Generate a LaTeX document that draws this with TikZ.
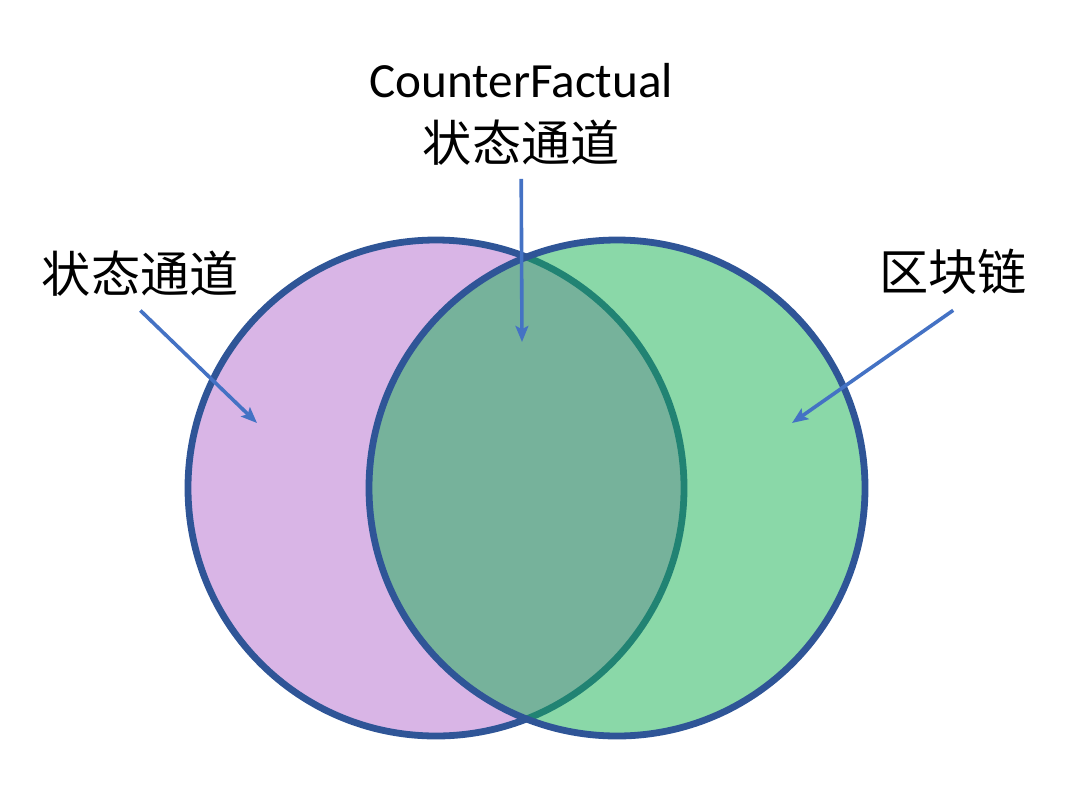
\documentclass[tikz,border=0pt]{standalone}
\usepackage{fontspec}
\setmainfont{Carlito}
\newfontfamily\cjk{Noto Sans CJK SC}
\usetikzlibrary{arrows.meta,positioning}
\definecolor{setpurple}{HTML}{D9B5E6}
\definecolor{setgreen}{HTML}{15B151}
\definecolor{ringblue}{HTML}{2F5597}
\definecolor{arrowblue}{HTML}{4472C4}

\begin{document}
\begin{tikzpicture}[
    set/.style={circle, draw=ringblue, line width=0.17cm, minimum size=12.4cm, inner sep=0pt},
    tag/.style={font=\fontsize{35}{45}\selectfont, inner sep=0pt, align=center},
    arrow/.style={-{Stealth[length=4mm, width=3.2mm, inset=0.8mm]}, draw=arrowblue, line width=0.09cm}
]
    \useasboundingbox (0,0) rectangle (27,-20.2);

    % Sets
    \node[set, fill=setpurple] (chan) at (10.9,-12.2) {};
    \node[set, fill=setgreen, fill opacity=0.5] (chain) at (15.425,-12.2) {};

    % Labels
    \node[tag, anchor=base] (top) at (13.03,-4.03) {CounterFactual\\\cjk 状态通道};
    \node[tag, anchor=base] (tagL) at (3.51,-7.3) {\cjk 状态通道};
    \node[tag, anchor=base] (tagR) at (23.83,-7.25) {\cjk 区块链};

    % Arrow targets
    \coordinate (inM) at (13.05,-8.55);
    \coordinate (inL) at (6.425,-10.575);
    \coordinate (inR) at (19.8,-10.575);

    \draw[arrow] ([yshift=-0.34cm]top.south) -- (inM);
    \draw[arrow] ([yshift=-0.36cm]tagL.south) -- (inL);
    \draw[arrow] ([yshift=-0.4cm]tagR.south) -- (inR);

\end{tikzpicture}
\end{document}
